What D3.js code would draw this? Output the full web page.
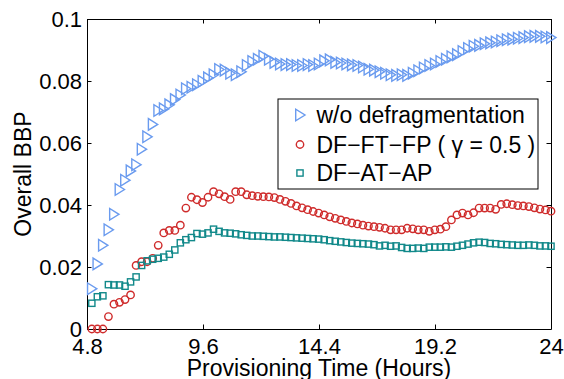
<!DOCTYPE html>
<html>
<head>
<meta charset="utf-8">
<script src="https://cdn.jsdelivr.net/npm/d3@7"></script>
<style>
  html, body { margin: 0; padding: 0; background: #fff; }
  svg { display: block; }
  text { font-family: "Liberation Sans", Arial, sans-serif; fill: #000; }
</style>
</head>
<body>
<svg id="chart" width="564" height="379"></svg>
<script>
// ---- data ----
const startHour = 5.0, endHour = 24.0, nPoints = 84;
const hours = d3.range(nPoints).map(i => startHour + i * (endHour - startHour) / (nPoints - 1));

const woDefrag = [
  0.013, 0.021, 0.027, 0.032, 0.037, 0.045, 0.048, 0.051, 0.053, 0.058,
  0.062, 0.066, 0.0705, 0.071, 0.0723, 0.074, 0.0755, 0.0775, 0.078, 0.0788,
  0.0799, 0.081, 0.082, 0.0837, 0.0835, 0.0825, 0.082, 0.083, 0.085, 0.0863,
  0.087, 0.088, 0.087, 0.086, 0.0855, 0.0853, 0.0853, 0.085, 0.085, 0.0853,
  0.085, 0.0855, 0.0865, 0.0868, 0.086, 0.0858, 0.0855, 0.0852, 0.085, 0.0845,
  0.0838, 0.0835, 0.083, 0.0825, 0.082, 0.0818, 0.082, 0.0818, 0.0825, 0.0833,
  0.0842, 0.085, 0.0855, 0.0863, 0.087, 0.0878, 0.0885, 0.0895, 0.0905, 0.0912,
  0.0915, 0.092, 0.0923, 0.0926, 0.093, 0.0933, 0.0935, 0.0938, 0.094, 0.0943,
  0.0944, 0.0944, 0.0942, 0.094
];
const dfFtFp = [
  0, 0, 0, 0.004, 0.008, 0.0086, 0.0095, 0.011, 0.0205, 0.0217,
  0.0217, 0.0228, 0.027, 0.031, 0.0318, 0.0318, 0.0335, 0.039, 0.0425, 0.0417,
  0.0408, 0.0425, 0.0443, 0.0436, 0.0427, 0.0418, 0.0443, 0.0443, 0.0433, 0.043,
  0.0428, 0.0427, 0.0426, 0.0424, 0.0418, 0.0412, 0.0405, 0.0397, 0.0391, 0.0385,
  0.0379, 0.0374, 0.0368, 0.0362, 0.0357, 0.0352, 0.0347, 0.0342, 0.0339, 0.0335,
  0.0332, 0.033, 0.0328, 0.0325, 0.032, 0.032, 0.032, 0.0325, 0.0323, 0.032,
  0.032, 0.0315, 0.032, 0.0322, 0.033, 0.0352, 0.0368, 0.0374, 0.0368, 0.0375,
  0.039, 0.039, 0.039, 0.0386, 0.0402, 0.0404, 0.0401, 0.0398, 0.0397, 0.0395,
  0.0391, 0.0387, 0.0384, 0.038
];
const dfAtAp = [
  0.0083, 0.0104, 0.0107, 0.0143, 0.0142, 0.0142, 0.0138, 0.0152, 0.0168, 0.0205,
  0.022, 0.0225, 0.0228, 0.0232, 0.0241, 0.0255, 0.0278, 0.0288, 0.0295, 0.0308,
  0.0306, 0.031, 0.0322, 0.0315, 0.031, 0.0309, 0.0307, 0.0304, 0.0302, 0.03,
  0.03, 0.0299, 0.0298, 0.0297, 0.0297, 0.0296, 0.0295, 0.0294, 0.0293, 0.0292,
  0.0291, 0.029, 0.0288, 0.0285, 0.0283, 0.0281, 0.0279, 0.0277, 0.0276, 0.0275,
  0.0274, 0.0272, 0.0268, 0.027, 0.0267, 0.0268, 0.0263, 0.026, 0.026, 0.0261,
  0.026, 0.0264, 0.0264, 0.0264, 0.0265, 0.0264, 0.0267, 0.027, 0.0274, 0.0278,
  0.028, 0.0279, 0.0276, 0.0275, 0.0273, 0.0272, 0.0271, 0.027, 0.027, 0.0271,
  0.027, 0.0268, 0.0268, 0.0267
];

const seriesNames = ["w/o defragmentation", "DF\u2212FT\u2212FP ( \u03b3 = 0.5 )", "DF\u2212AT\u2212AP"];
const xTicks = [4.8, 9.6, 14.4, 19.2, 24];
const xTickLabels = ["4.8", "9.6", "14.4", "19.2", "24"];
const yTicks = [0, 0.02, 0.04, 0.06, 0.08, 0.1];
const yTickLabels = ["0", "0.02", "0.04", "0.06", "0.08", "0.1"];
const xTitle = "Provisioning Time (Hours)";
const yTitle = "Overall BBP";

// ---- layout ----
const L = 87, R = 551, T = 19, B = 329;
const svg = d3.select("#chart");
const x = d3.scaleLinear().domain([4.8, 24]).range([L, R]);
const y = d3.scaleLinear().domain([0, 0.1]).range([B, T]);

const colors = ["#6a9bef", "#cf2b2b", "#11898a"];
const tickLen = 4.5;

svg.append("rect").attr("x", 0).attr("y", 0).attr("width", 564).attr("height", 379).attr("fill", "#fff");

function styleAxis(g) {
  g.attr("font-family", null);
  g.selectAll("path.domain").attr("stroke", "#000").attr("stroke-width", 1);
  g.selectAll(".tick line").attr("stroke", "#000").attr("stroke-width", 1);
  g.selectAll("text").style("font-size", "22px").attr("fill", "#000");
}

svg.append("g").attr("transform", `translate(0,${B})`)
  .call(d3.axisBottom(x).tickValues(xTicks).tickFormat((d, i) => xTickLabels[i])
    .tickSizeInner(-tickLen).tickSizeOuter(0).tickPadding(9))
  .call(styleAxis);
svg.append("g").attr("transform", `translate(0,${T})`)
  .call(d3.axisTop(x).tickValues(xTicks).tickFormat("").tickSizeInner(-tickLen).tickSizeOuter(0))
  .call(styleAxis);
svg.append("g").attr("transform", `translate(${L},0)`)
  .call(d3.axisLeft(y).tickValues(yTicks).tickFormat((d, i) => yTickLabels[i])
    .tickSizeInner(-tickLen).tickSizeOuter(0).tickPadding(5))
  .call(styleAxis);
svg.append("g").attr("transform", `translate(${R},0)`)
  .call(d3.axisRight(y).tickValues(yTicks).tickFormat("").tickSizeInner(-tickLen).tickSizeOuter(0))
  .call(styleAxis);

// axis titles
svg.append("text").attr("x", (L + R) / 2).attr("y", 376).attr("text-anchor", "middle")
  .style("font-size", "23px").text(xTitle);
svg.append("text").attr("transform", `translate(31,${(T + B) / 2}) rotate(-90)`)
  .attr("text-anchor", "middle").style("font-size", "23px").text(yTitle);

// markers
const triPath = "M-4.3,-5.8L-4.3,5.8L5,0Z";
function drawMarker(sel, kind, color) {
  if (kind === 0) {
    sel.append("path").attr("d", triPath).attr("fill", "none").attr("stroke", color).attr("stroke-width", 1.4);
  } else if (kind === 1) {
    sel.append("circle").attr("r", 3.7).attr("fill", "none").attr("stroke", color).attr("stroke-width", 1.4);
  } else {
    sel.append("rect").attr("x", -3.1).attr("y", -3.1).attr("width", 6.2).attr("height", 6.2)
      .attr("fill", "none").attr("stroke", color).attr("stroke-width", 1.4);
  }
}

const allSeries = [woDefrag, dfFtFp, dfAtAp];
allSeries.forEach((vals, k) => {
  const g = svg.append("g");
  const pts = g.selectAll("g").data(vals).enter().append("g")
    .attr("transform", (d, i) => `translate(${x(hours[i])},${y(d)})`);
  drawMarker(pts, k, colors[k]);
});

// legend
const lg = svg.append("g");
lg.append("rect").attr("x", 278).attr("y", 99).attr("width", 260).attr("height", 90)
  .attr("fill", "#fff").attr("stroke", "#000").attr("stroke-width", 1);
const rowY = [115, 144.5, 173];
seriesNames.forEach((name, k) => {
  const m = lg.append("g").attr("transform", `translate(300,${rowY[k]})`);
  drawMarker(m, k, colors[k]);
  lg.append("text").attr("x", 316.5).attr("y", rowY[k]).attr("dy", "0.36em")
    .style("font-size", "23px").text(name);
});
</script>
</body>
</html>
